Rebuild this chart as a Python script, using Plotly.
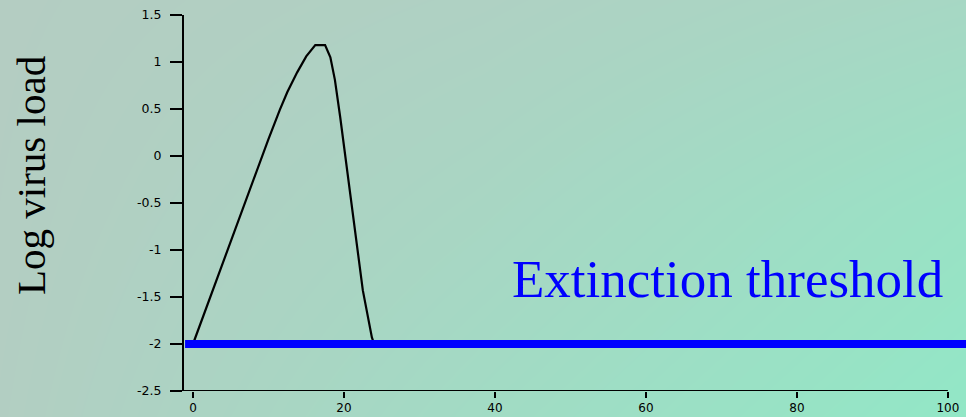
import plotly.graph_objects as go

# ---- data ----
days = [0, 2.0, 3.6, 6.0, 8.0, 10.0, 11.5, 12.5, 13.8, 15.0, 16.2, 17.5, 18.2, 18.8, 19.5, 20.6, 21.7, 22.5, 23.7, 24.0]
log_load = [-2.0, -1.56, -1.21, -0.69, -0.26, 0.18, 0.49, 0.68, 0.89, 1.06, 1.18, 1.18, 1.05, 0.81, 0.415, -0.255, -0.97, -1.43, -1.93, -2.0]

threshold_x = [-1.05, 103.0]
threshold_y = [-2.0, -2.0]
threshold_label = "Extinction threshold"

x_ticks = [0, 20, 40, 60, 80, 100]
y_ticks = [-2.5, -2, -1.5, -1, -0.5, 0, 0.5, 1, 1.5]
y_tick_text = ["-2.5", "-2", "-1.5", "-1", "-0.5", "0", "0.5", "1", "1.5"]
y_title = "Log virus load"

# background gradient (styling)
bg_z = [[0.05, 0.55, 1.0],
        [0.02, 0.35, 0.78],
        [0.0, 0.15, 0.40]]

W, H = 966, 417
x_dom = [184 / W, 1.0]
y_dom = [1 - 391 / H, 1 - 15 / H]
x_range = [-1.19, 102.4]
y_range = [-2.5, 1.5]

fig = go.Figure()

# background heatmap on full-paper axes
fig.add_trace(go.Heatmap(
    x=[0, 0.5, 1], y=[0, 0.5, 1], z=bg_z, zsmooth="best",
    colorscale=[[0, "#b4cdc2"], [1, "#92e7c6"]], zmin=0, zmax=1,
    showscale=False, hoverinfo="skip", xaxis="x", yaxis="y"))

fig.add_trace(go.Scatter(
    x=days, y=log_load, mode="lines",
    line=dict(color="black", width=2.2),
    xaxis="x2", yaxis="y2", showlegend=False))

fig.add_trace(go.Scatter(
    x=threshold_x, y=threshold_y, mode="lines",
    line=dict(color="#0000ff", width=8),
    xaxis="x2", yaxis="y2", showlegend=False))

xtickfont = dict(family="DejaVu Sans", size=12, color="black")
ytickfont = dict(family="DejaVu Sans", size=12.5, color="black")

fig.update_layout(
    width=W, height=H, autosize=False,
    margin=dict(l=0, r=0, t=0, b=0, pad=0, autoexpand=False),
    paper_bgcolor="#b0d2c3",
    plot_bgcolor="rgba(0,0,0,0)",
    showlegend=False,
    xaxis=dict(domain=[0, 1], range=[0, 1], visible=False, fixedrange=True, automargin=False),
    yaxis=dict(domain=[0, 1], range=[0, 1], visible=False, fixedrange=True, automargin=False),
    xaxis2=dict(domain=x_dom, range=x_range, anchor="y2", automargin=False,
                tickmode="array", tickvals=x_ticks,
                ticks="outside", ticklen=6, tickwidth=2, tickcolor="black",
                showline=False, showgrid=False, zeroline=False,
                tickfont=xtickfont, ticklabelstandoff=0),
    yaxis2=dict(domain=y_dom, range=y_range, anchor="x2", automargin=False,
                tickmode="array", tickvals=y_ticks, ticktext=y_tick_text,
                ticks="outside", ticklen=12, tickwidth=2, tickcolor="black",
                showline=True, linecolor="black", linewidth=2,
                showgrid=False, zeroline=False,
                tickfont=ytickfont, ticklabelstandoff=6),
    shapes=[dict(type="line", xref="x2", yref="y2",
                 x0=x_range[0], x1=100, y0=-2.5, y1=-2.5,
                 line=dict(color="black", width=2), layer="above")],
    annotations=[
        dict(text=threshold_label, xref="x2", yref="y2", x=42.0, y=-1.31,
             xanchor="left", yanchor="middle", showarrow=False,
             font=dict(family="Liberation Serif", size=53, color="#0000ff")),
        dict(text=y_title, xref="paper", yref="paper", x=31 / W, y=1 - 176 / H,
             xanchor="center", yanchor="middle", textangle=-90, showarrow=False,
             font=dict(family="Liberation Serif", size=41, color="black")),
    ],
)

fig.write_html(
    "out.html",
    config={"displayModeBar": False},
    post_script="document.body.style.margin='0';document.body.style.overflow='hidden';",
)
